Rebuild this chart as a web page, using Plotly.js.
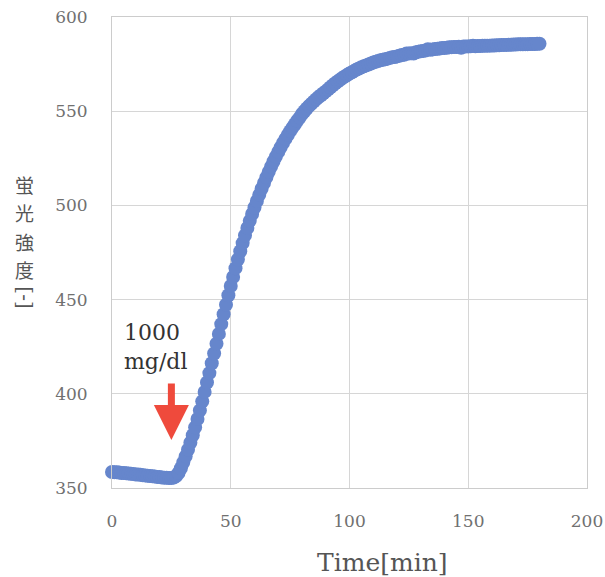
<!DOCTYPE html>
<html>
<head>
<meta charset="utf-8">
<script src="https://cdn.plot.ly/plotly-3.0.1.min.js"></script>
<style>html,body{margin:0;padding:0;background:#fff;}#chart{width:605px;height:577px;}</style>
</head>
<body>
<div id="chart"></div>
<script>
// Time [min]
const timeMin = [
0,1,2,3,4,5,6,7,8,9,10,11,12,13,14,15,16,17,18,19,20,21,22,23,24,25,26,27,28,29,
30,31,32,33,34,35,36,37,38,39,40,41,42,43,44,45,46,47,48,49,50,51,52,53,54,55,56,57,58,59,
60,61,62,63,64,65,66,67,68,69,70,71,72,73,74,75,76,77,78,79,80,81,82,83,84,85,86,87,88,89,
90,91,92,93,94,95,96,97,98,99,100,101,102,103,104,105,106,107,108,109,110,111,112,113,114,115,116,117,118,119,
120,121,122,123,124,125,126,127,128,129,130,131,132,133,134,135,136,137,138,139,140,141,142,143,144,145,146,147,148,149,
150,151,152,153,154,155,156,157,158,159,160,161,162,163,164,165,166,167,168,169,170,171,172,173,174,175,176,177,178,179,180
];
// Fluorescence intensity [-]
const intensity = [
358.5,358.4,358.3,358.2,358.0,357.9,357.8,357.7,357.5,357.4,357.2,357.1,357.0,356.8,356.7,356.5,356.4,356.2,356.1,355.9,355.8,355.6,355.5,355.4,355.3,355.3,355.6,356.4,358.0,360.5,
363.5,366.8,370.3,374.0,378.0,382.2,386.6,391.2,396.0,401.0,406.0,411.0,416.2,421.4,426.6,431.8,437.0,442.2,447.3,452.3,457.2,462.0,466.7,471.3,475.7,480.0,484.1,488.0,491.8,495.4,
498.9,502.3,505.6,508.8,511.9,514.9,517.8,520.6,523.3,525.9,528.4,530.8,533.1,535.3,537.4,539.4,541.3,543.1,544.9,546.6,548.5,550.0,551.4,552.8,554.0,555.2,556.4,557.5,558.5,559.5,
560.5,561.6,562.7,563.8,564.8,565.8,566.7,567.6,568.4,569.2,570.0,570.7,571.4,572.1,572.7,573.3,573.8,574.3,574.8,575.3,575.8,576.2,576.6,577.0,577.3,577.6,577.9,578.3,578.6,578.8,
579.1,579.4,579.8,580.0,580.6,580.6,580.8,580.6,581.3,581.6,581.8,582.0,582.2,582.9,582.6,582.8,583.0,583.1,583.3,583.5,583.6,583.7,583.9,584.0,584.1,584.1,584.2,583.7,584.3,584.4,
584.4,584.5,584.7,584.5,584.6,584.6,584.7,584.7,584.8,584.8,584.9,584.9,585.0,585.0,585.1,585.2,585.2,585.3,585.3,585.4,585.4,585.5,585.5,585.5,585.6,585.6,585.7,585.7,585.7,585.8,585.8
];
const xTicks = [0, 50, 100, 150, 200];
const yTicks = [350, 400, 450, 500, 550, 600];
const yTitleChars = ['蛍', '光', '強', '度'];
const yTitleUnit = '[-]';
const xTitle = 'Time[min]';
const doseLabel = ['1000', 'mg/dl'];

const serif = 'DejaVu Serif, Liberation Serif, serif';
const data = [{
  x: timeMin, y: intensity, type: 'scatter', mode: 'markers', cliponaxis: false,
  marker: {size: 14, color: '#6686cc', line: {width: 0}},
  hoverinfo: 'skip'
}];

const annotations = yTitleChars.map((c, i) => ({
  xref: 'paper', yref: 'paper', x: -0.185, y: 0.6454 - i * 0.0605,
  xanchor: 'center', yanchor: 'middle', text: c, showarrow: false, borderpad: 0,
  font: {family: 'Noto Sans CJK JP', size: 19, color: '#555555'}
}));
annotations.push(
  {xref: 'paper', yref: 'paper', x: -0.185, y: 0.4045, xanchor: 'center', yanchor: 'middle',
   text: yTitleUnit, textangle: 90, showarrow: false, borderpad: 0,
   font: {family: serif, size: 20, color: '#555555'}},
  {xref: 'paper', yref: 'paper', x: 0.569, y: -0.158, xanchor: 'center', yanchor: 'middle',
   text: xTitle, showarrow: false,
   font: {family: serif, size: 25, color: '#555555'}},
  {xref: 'x', yref: 'y', x: 4.3, y: 425, xanchor: 'left', yanchor: 'middle', align: 'left',
   text: doseLabel.join('<br>'), showarrow: false,
   font: {family: serif, size: 22, color: '#333333'}},
  {xref: 'x', yref: 'y', x: 25, y: 375.5, text: '', showarrow: true,
   ax: 0, ay: -58, arrowhead: 2, arrowsize: 1, arrowwidth: 7, arrowcolor: '#ef4a3c'}
);

const layout = {
  width: 605, height: 577,
  margin: {l: 112, r: 18, t: 17, b: 89},
  paper_bgcolor: '#ffffff', plot_bgcolor: '#ffffff',
  showlegend: false,
  xaxis: {
    range: [0, 200], tickvals: xTicks, ticktext: xTicks.map(String),
    showgrid: true, gridcolor: '#d6d6d6', gridwidth: 1,
    showline: true, mirror: true, linecolor: '#cccccc', linewidth: 1,
    zeroline: false, ticks: 'outside', ticklen: 18, tickcolor: 'rgba(0,0,0,0)',
    tickfont: {family: serif, size: 17, color: '#707070'}
  },
  yaxis: {
    range: [350, 600], tickvals: yTicks, ticktext: yTicks.map(String),
    showgrid: true, gridcolor: '#d6d6d6', gridwidth: 1,
    showline: true, mirror: true, linecolor: '#cccccc', linewidth: 1,
    zeroline: false, ticks: 'outside', ticklen: 20, tickcolor: 'rgba(0,0,0,0)',
    tickfont: {family: serif, size: 17, color: '#707070'}
  },
  annotations: annotations
};
Plotly.newPlot('chart', data, layout, {displayModeBar: false, staticPlot: true});
</script>
</body>
</html>
